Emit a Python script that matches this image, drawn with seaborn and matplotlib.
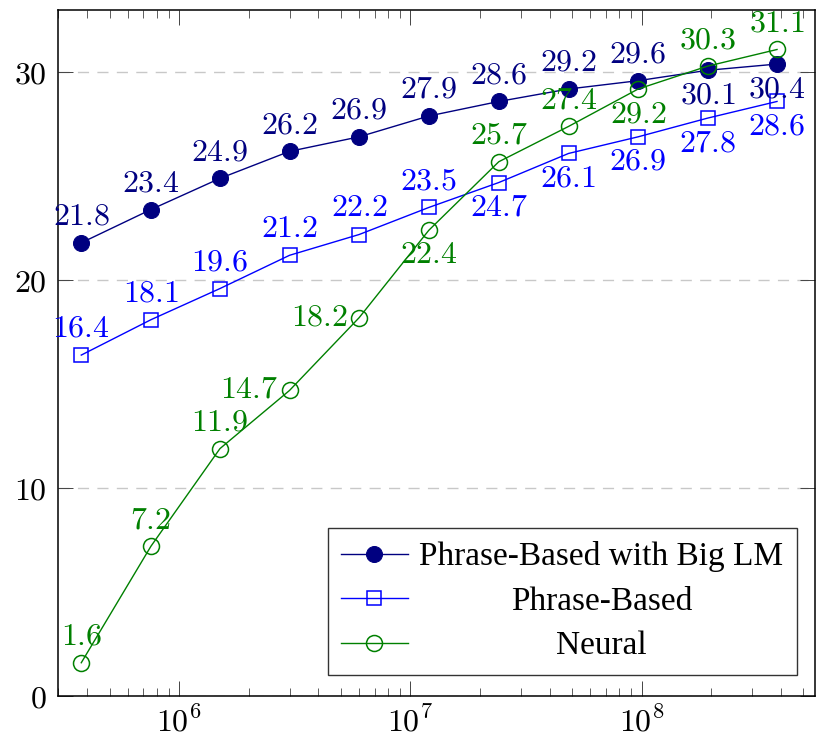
import numpy as np
import pandas as pd
import seaborn as sns
import matplotlib
matplotlib.use("Agg")
import matplotlib.pyplot as plt
import matplotlib.transforms as mtransforms
from matplotlib.ticker import FixedLocator, LogLocator, FuncFormatter, NullFormatter

# corpus size (english words), doubling each step
corpus_words = [377e3, 754e3, 1.5e6, 3.0e6, 6.0e6, 12.0e6, 24.1e6, 48.3e6, 96.6e6, 193e6, 385e6]

big_lm = [21.8, 23.4, 24.9, 26.2, 26.9, 27.9, 28.6, 29.2, 29.6, 30.1, 30.4]
phrase_based = [16.4, 18.1, 19.6, 21.2, 22.2, 23.5, 24.7, 26.1, 26.9, 27.8, 28.6]
neural = [1.6, 7.2, 11.9, 14.7, 18.2, 22.4, 25.7, 27.4, 29.2, 30.3, 31.1]

series_names = ["Phrase-Based with Big LM", "Phrase-Based", "Neural"]
y_ticks = [0, 10, 20, 30]

# where each point label sits (a = above, b = below, l = left)
big_lm_pos = list("aaaaaaaaabb")
phrase_pos = list("aaaaaabbbbb")
neural_pos = list("aaallbaabaa")

plt.rcParams["mathtext.fontset"] = "cm"
plt.rcParams["font.family"] = ["Liberation Serif", "DejaVu Serif"]

navy = "#000080"
blue = "#0000ff"
green = "#008000"

fig = plt.figure(figsize=(8.16, 7.4), dpi=100)
ax = fig.add_axes([58 / 816, 44 / 740, 757 / 816, 686 / 740])

styles = [
    dict(color=navy, marker="o", markerfacecolor=navy, markeredgecolor=navy, markersize=11.5),
    dict(color=blue, marker="s", markerfacecolor="none", markeredgecolor=blue,
         markersize=10.5, markeredgewidth=1.1),
    dict(color=green, marker="o", markerfacecolor="none", markeredgecolor=green,
         markersize=11.5, markeredgewidth=1.1),
]

for name, vals, st in zip(series_names, [big_lm, phrase_based, neural], styles):
    sns.lineplot(x=corpus_words, y=vals, ax=ax, label=name, linewidth=1.0, **st)

ax.set_xscale("log")
ax.set_xlim(2.99e5, 5.62e8)
ax.set_ylim(0, 33)

ax.yaxis.set_major_locator(FixedLocator(y_ticks))
ax.yaxis.set_major_formatter(FuncFormatter(lambda v, _: f"${v:g}$"))
ax.xaxis.set_major_locator(LogLocator(base=10))
ax.xaxis.set_minor_locator(LogLocator(base=10, subs=np.arange(2, 10)))
ax.xaxis.set_major_formatter(FuncFormatter(lambda v, _: f"$10^{{{int(round(np.log10(v)))}}}$"))
ax.xaxis.set_minor_formatter(NullFormatter())

ax.tick_params(axis="both", which="both", direction="in", top=True, right=True,
               labelsize=23, color="#444444")
ax.tick_params(axis="both", which="major", length=11, width=0.7, pad=8)
ax.tick_params(axis="x", which="minor", length=6, width=0.6)
for s in ax.spines.values():
    s.set_linewidth(1.1)

ax.yaxis.grid(True, linestyle=(0, (8, 6)), color="#c8c8c8", linewidth=1.0)
ax.set_axisbelow(True)
ax.set_xlabel("")
ax.set_ylabel("")

offsets = {"a": ((0, 8), "center", "bottom"),
           "b": ((0, -8), "center", "top"),
           "l": ((-8, 0), "right", "center")}
for vals, pos, col in [(big_lm, big_lm_pos, navy), (phrase_based, phrase_pos, blue),
                       (neural, neural_pos, green)]:
    for x, y, p in zip(corpus_words, vals, pos):
        off, ha, va = offsets[p]
        ax.annotate(f"${y:.1f}$", (x, y), xytext=off, textcoords="offset points",
                    ha=ha, va=va, color=col, fontsize=23)

leg = ax.legend(loc="lower right", bbox_to_anchor=(0.976, 0.031), borderaxespad=0,
                fontsize=24, frameon=True, fancybox=False, edgecolor="black",
                handlelength=2.0, handletextpad=0.35, labelspacing=0.42, borderpad=0.4)
leg.get_frame().set_linewidth(1.0)

# center the legend entries like the original
fig.canvas.draw()
r = fig.canvas.get_renderer()
texts = leg.get_texts()
widths = [t.get_window_extent(r).width for t in texts]
wmax = max(widths)
for t, w in zip(texts, widths):
    t.set_transform(t.get_transform() + mtransforms.Affine2D().translate((wmax - w) / 2, 0))

fig.savefig("out.png", dpi=100)
